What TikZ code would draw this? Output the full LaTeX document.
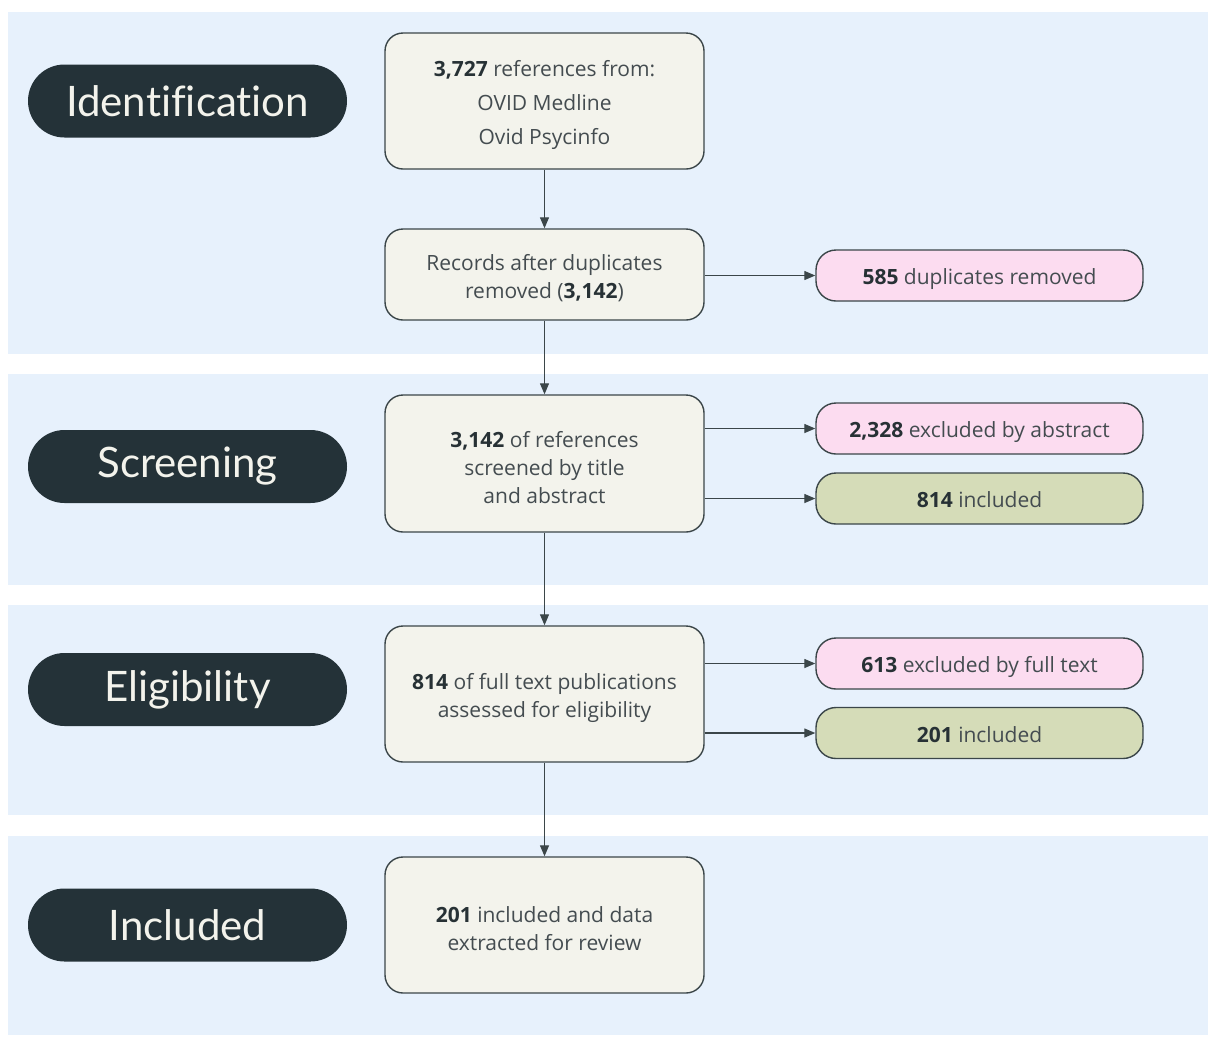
\documentclass[tikz,border=0pt]{standalone}
\usepackage{fontspec}
\setmainfont{Open Sans}
\newfontfamily\pillfont[Ligatures={NoCommon,NoRare}]{Lato}
\usetikzlibrary{arrows.meta}

\definecolor{bandbg}{HTML}{E7F1FC}
\definecolor{pilldark}{HTML}{243238}
\definecolor{boxfill}{HTML}{F3F3EC}
\definecolor{edgecol}{HTML}{3B4649}
\definecolor{pinkfill}{HTML}{FCDCF0}
\definecolor{greenfill}{HTML}{D5DCB8}
\definecolor{txt}{HTML}{444C50}
\definecolor{txtbold}{HTML}{273135}

\newcommand{\num}[1]{{\bfseries\color{txtbold}#1}}
% taller first line, so the block of lines sits a little lower in its box
\newcommand{\firstline}{\rule{0pt}{24pt}}

\begin{document}
\begin{tikzpicture}[x=1pt,y=-1pt,
  band/.style={fill=bandbg},
  stage/.style={fill=pilldark, text=boxfill, rounded corners=36.5pt,
    minimum width=319pt, minimum height=73pt, inner sep=0pt,
    font=\pillfont\fontsize{42}{44}\selectfont},
  mainbox/.style={draw=edgecol, line width=1.4pt, fill=boxfill, rounded corners=18pt,
    minimum width=319pt, inner sep=0pt, align=center, text=txt,
    font=\fontsize{21}{28}\selectfont},
  sidebox/.style={draw=edgecol, line width=1.4pt, rounded corners=20pt,
    minimum width=327pt, minimum height=51pt, inner sep=0pt, text=txt,
    font=\fontsize{21}{24}\selectfont, text height=23pt, text depth=5pt},
  excl/.style={sidebox, fill=pinkfill},
  incl/.style={sidebox, fill=greenfill},
  flow/.style={draw=edgecol, line width=1.3pt, -{Triangle[length=11pt,width=9pt]}}
]
\useasboundingbox (0,0) rectangle (1208,1037);
\fill[white] (0,0) rectangle (1208,1037);

% background bands for the four phases
\fill[band] (8,12) rectangle (1208,354);
\fill[band] (8,374) rectangle (1208,585);
\fill[band] (8,605) rectangle (1208,815);
\fill[band] (8,836) rectangle (1208,1035);

% phase labels
\node[stage] (sid)  at (187.5,101)   {Identification};
\node[stage] (sscr) at (187.5,466.5) {Screening};
\node[stage] (sel)  at (187.5,689.5) {Eligibility};
\node[stage] (sinc) at (187.5,925)   {Included};

% main flow boxes
\node[mainbox, minimum height=136pt, font=\fontsize{21}{34}\selectfont] (b1) at (544.5,101)
  {\firstline\num{3,727} references from:\\OVID Medline\\Ovid Psycinfo};
\node[mainbox, minimum height=91pt] (b2) at (544.5,274.5)
  {\firstline Records after duplicates\\removed (\num{3,142})};
\node[mainbox, minimum height=137pt] (b3) at (544.5,463.5)
  {\firstline\num{3,142} of references\\screened by title\\and abstract};
\node[mainbox, minimum height=136pt] (b4) at (544.5,694)
  {\firstline\num{814} of full text publications\\assessed for eligibility};
\node[mainbox, minimum height=136pt] (b5) at (544.5,925)
  {\firstline\num{201} included and data\\extracted for review};

% side boxes
\node[excl] (d585)  at (979.5,275.5) {\num{585} duplicates removed};
\node[excl] (e2328) at (979.5,428.5) {\num{2,328} excluded by abstract};
\node[incl] (i814)  at (979.5,498.5) {\num{814} included};
\node[excl] (e613)  at (979.5,663.5) {\num{613} excluded by full text};
\node[incl] (i201)  at (979.5,733)   {\num{201} included};

% vertical flow
\draw[flow] (b1.south) -- (b2.north);
\draw[flow] (b2.south) -- (b3.north);
\draw[flow] (b3.south) -- (b4.north);
\draw[flow] (b4.south) -- (b5.north);

% side branches
\draw[flow] (b2.east |- d585.west) -- (d585.west);
\draw[flow] (b3.east |- e2328.west) -- (e2328.west);
\draw[flow] (b3.east |- i814.west) -- (i814.west);
\draw[flow] (b4.east |- e613.west) -- (e613.west);
\draw[flow] (b4.east |- i201.west) -- (i201.west);
\end{tikzpicture}
\end{document}
